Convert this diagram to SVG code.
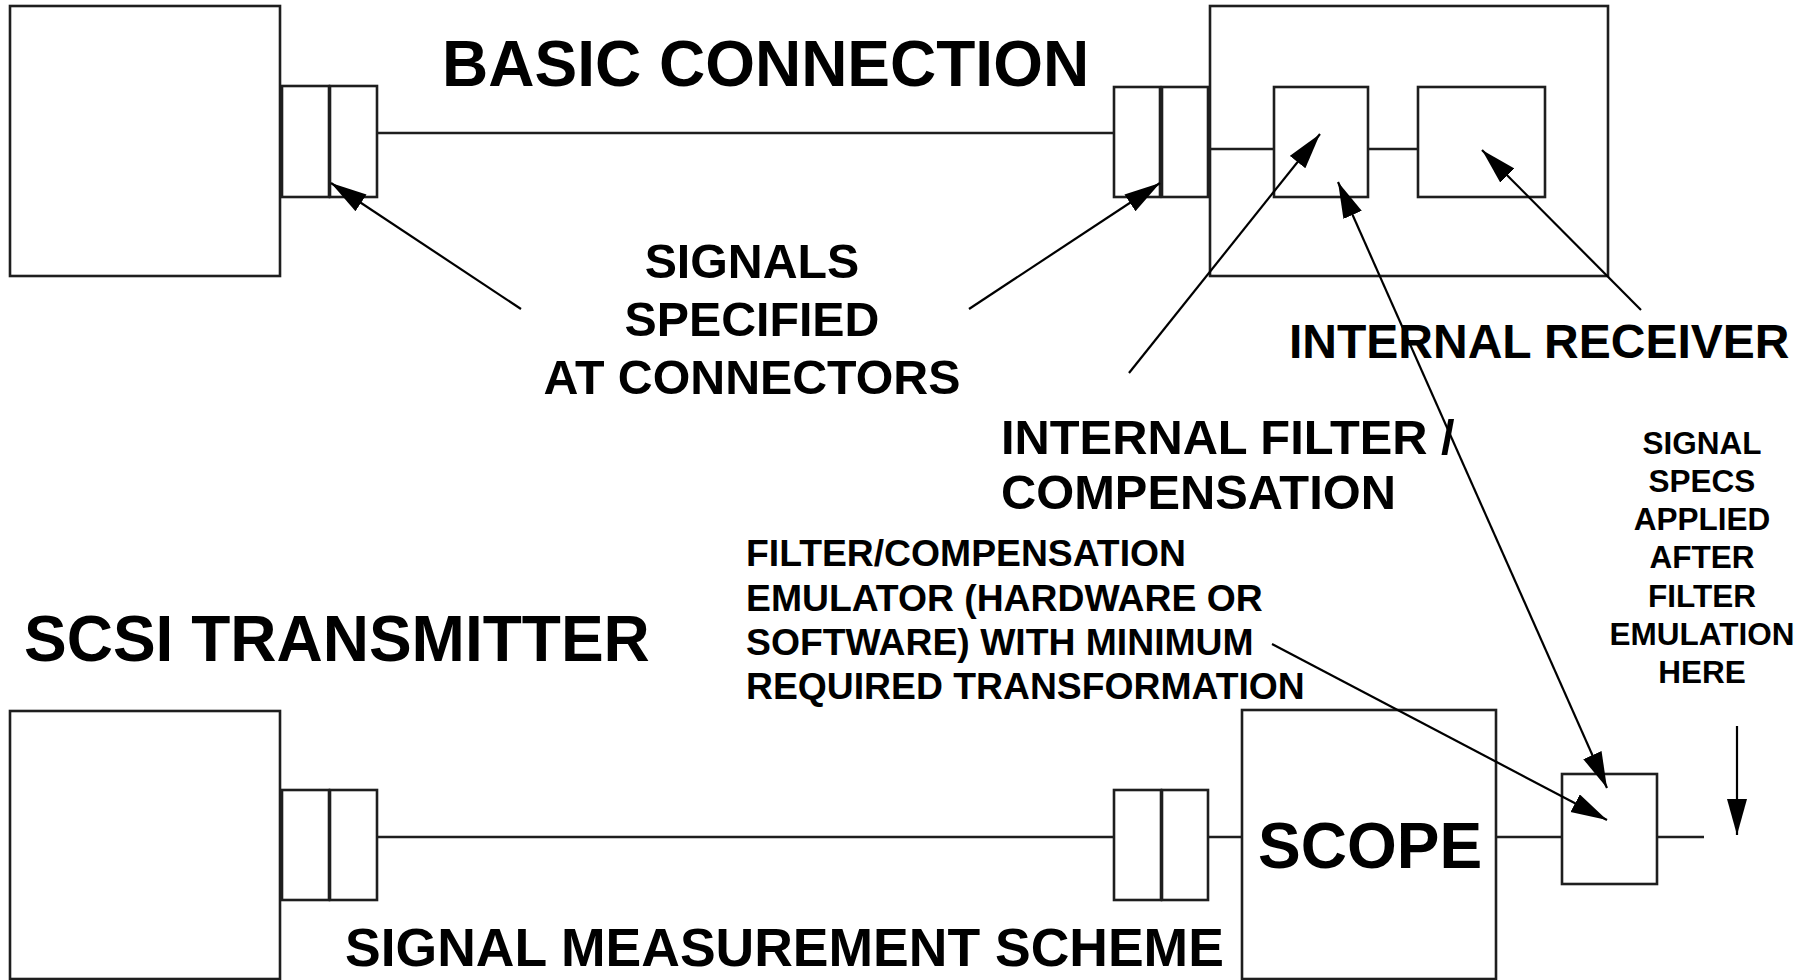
<svg xmlns="http://www.w3.org/2000/svg" width="1815" height="980" viewBox="0 0 1815 980">
<style>
.box{fill:none;stroke:#1e1e1e;stroke-width:2.6}
.wire{fill:none;stroke:#1e1e1e;stroke-width:2.6}
.arr{fill:none;stroke:#000;stroke-width:2.2}
.t{font-family:"Liberation Sans",Arial,sans-serif;font-weight:bold;fill:#000}
</style>
<defs>
<marker id="ah" markerUnits="userSpaceOnUse" markerWidth="38" markerHeight="22" refX="36" refY="10" orient="auto-start-reverse" viewBox="0 0 38 22">
<path d="M0,0 L36,10 L0,20 z" fill="#000"/>
</marker>
</defs>
<rect width="1815" height="980" fill="#fff"/>

<g id="transmitter-top">
<rect class="box" x="10" y="6" width="270" height="270"/>
</g>
<g id="connector-top-left">
<rect class="box" x="282" y="86" width="47" height="111"/>
<rect class="box" x="330" y="86" width="47" height="111"/>
</g>
<g id="connector-top-right">
<rect class="box" x="1114" y="87" width="46" height="110"/>
<rect class="box" x="1162" y="87" width="46" height="110"/>
</g>
<g id="receiver-device">
<rect class="box" x="1210" y="6" width="398" height="270"/>
</g>
<g id="internal-filter">
<rect class="box" x="1274" y="87" width="94" height="110"/>
</g>
<g id="internal-receiver">
<rect class="box" x="1418" y="87" width="127" height="110"/>
</g>

<g id="transmitter-bottom">
<rect class="box" x="10" y="711" width="270" height="268"/>
</g>
<g id="connector-bottom-left">
<rect class="box" x="282" y="790" width="47" height="110"/>
<rect class="box" x="330" y="790" width="47" height="110"/>
</g>
<g id="connector-bottom-right">
<rect class="box" x="1114" y="790" width="47" height="110"/>
<rect class="box" x="1162" y="790" width="46" height="110"/>
</g>
<g id="scope">
<rect class="box" x="1242" y="710" width="254" height="269"/>
<text class="t" x="1258" y="868" font-size="64">SCOPE</text>
</g>
<g id="emulator">
<rect class="box" x="1562" y="774" width="95" height="110"/>
</g>

<g id="connectors">
<line class="wire" x1="377" y1="133" x2="1114" y2="133"/>
<line class="wire" x1="1210" y1="149" x2="1274" y2="149"/>
<line class="wire" x1="1368" y1="149" x2="1418" y2="149"/>
<line class="wire" x1="377" y1="837" x2="1114" y2="837"/>
<line class="wire" x1="1208" y1="837" x2="1242" y2="837"/>
<line class="wire" x1="1496" y1="837" x2="1562" y2="837"/>
<line class="wire" x1="1657" y1="837" x2="1704" y2="837"/>
<line class="arr" x1="521" y1="309" x2="331" y2="183" marker-end="url(#ah)"/>
<line class="arr" x1="969" y1="309" x2="1160" y2="183" marker-end="url(#ah)"/>
<line class="arr" x1="1129" y1="373" x2="1320" y2="134" marker-end="url(#ah)"/>
<line class="arr" x1="1641" y1="310" x2="1482" y2="150" marker-end="url(#ah)"/>
<line class="arr" x1="1338" y1="182" x2="1607" y2="788" marker-start="url(#ah)" marker-end="url(#ah)"/>
<line class="arr" x1="1272" y1="644" x2="1607" y2="820" marker-end="url(#ah)"/>
<line class="arr" x1="1737" y1="726" x2="1737" y2="835" marker-end="url(#ah)"/>
</g>

<g id="labels">
<text class="t" x="442" y="86" font-size="64">BASIC CONNECTION</text>
<text class="t" x="752" y="278" font-size="48.3" text-anchor="middle">SIGNALS</text>
<text class="t" x="752" y="336" font-size="48.3" text-anchor="middle">SPECIFIED</text>
<text class="t" x="752" y="394" font-size="48.3" text-anchor="middle">AT CONNECTORS</text>
<text class="t" x="1289" y="358" font-size="48">INTERNAL RECEIVER</text>
<text class="t" x="1001" y="454" font-size="48.8">INTERNAL FILTER /</text>
<text class="t" x="1001" y="509" font-size="48.8">COMPENSATION</text>
<text class="t" x="746" y="566" font-size="37.3">FILTER/COMPENSATION</text>
<text class="t" x="746" y="611" font-size="37.3">EMULATOR (HARDWARE OR</text>
<text class="t" x="746" y="655" font-size="37.3">SOFTWARE) WITH MINIMUM</text>
<text class="t" x="746" y="699" font-size="37.3">REQUIRED TRANSFORMATION</text>
<text class="t" x="24" y="661" font-size="64">SCSI TRANSMITTER</text>
<text class="t" x="345" y="966" font-size="53.5">SIGNAL MEASUREMENT SCHEME</text>
<text class="t" x="1702" y="454" font-size="31.5" text-anchor="middle">SIGNAL</text>
<text class="t" x="1702" y="492" font-size="31.5" text-anchor="middle">SPECS</text>
<text class="t" x="1702" y="530" font-size="31.5" text-anchor="middle">APPLIED</text>
<text class="t" x="1702" y="568" font-size="31.5" text-anchor="middle">AFTER</text>
<text class="t" x="1702" y="607" font-size="31.5" text-anchor="middle">FILTER</text>
<text class="t" x="1702" y="645" font-size="31.5" text-anchor="middle">EMULATION</text>
<text class="t" x="1702" y="683" font-size="31.5" text-anchor="middle">HERE</text>
</g>
</svg>
